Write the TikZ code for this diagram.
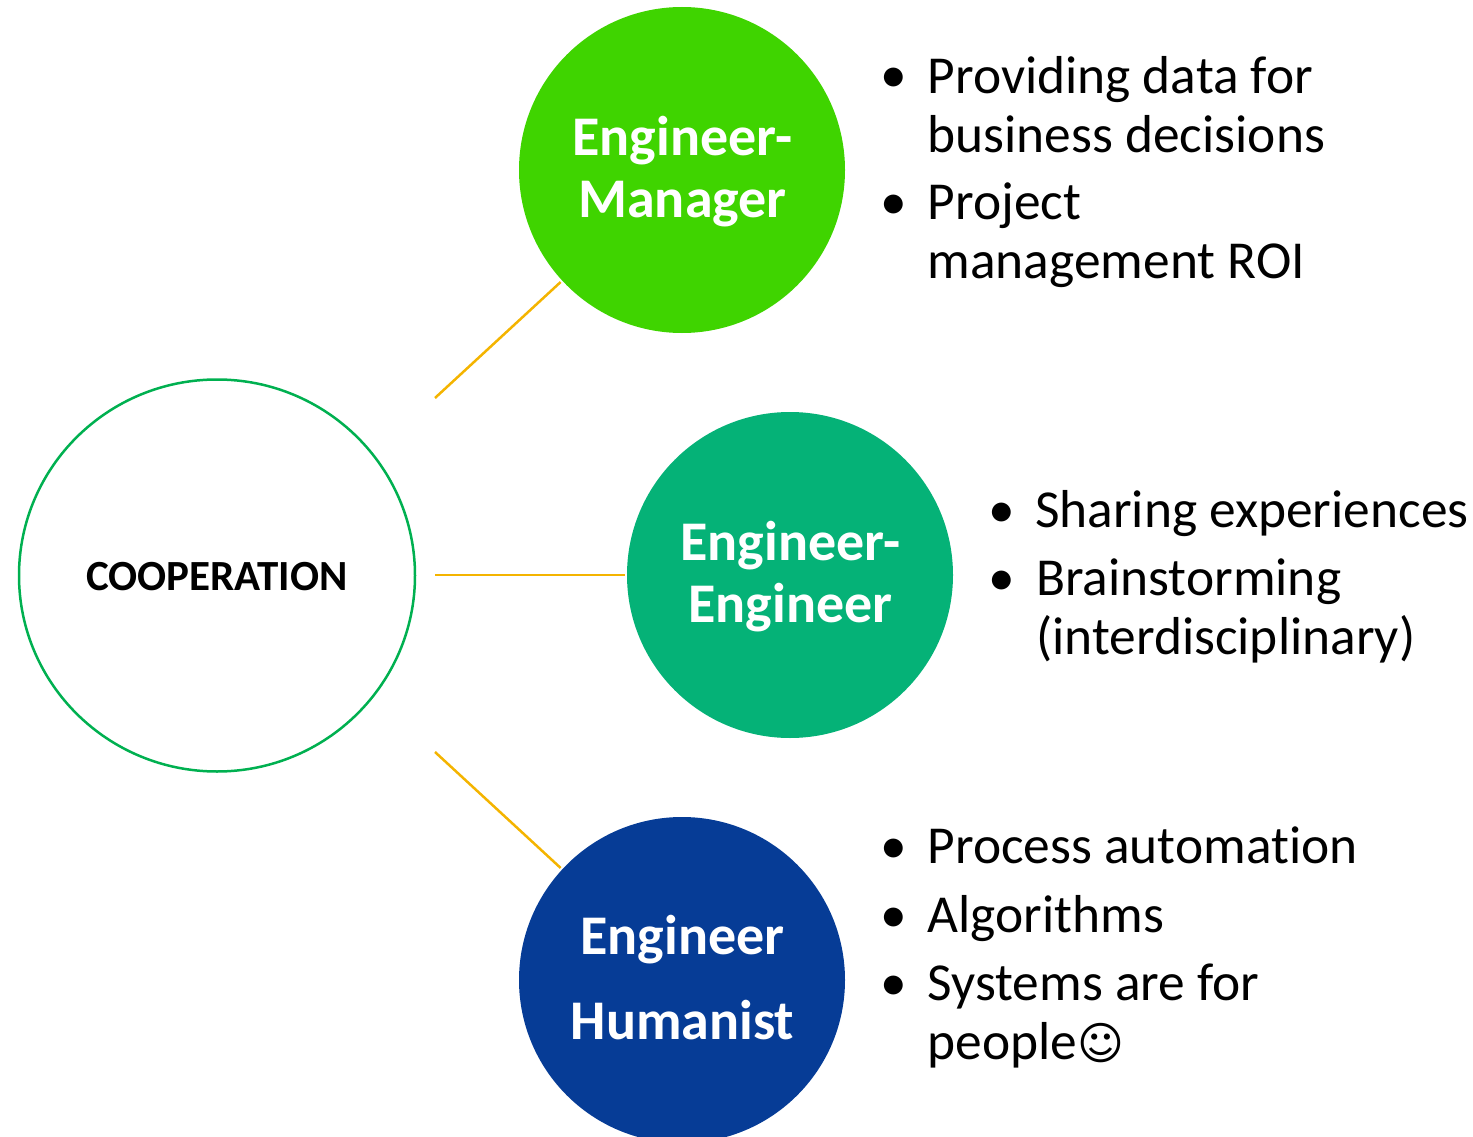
\documentclass[tikz,border=0pt]{standalone}
\usepackage{fontspec}
\usetikzlibrary{shapes.geometric}
\setmainfont{Carlito}[Ligatures=NoCommon]
\newfontfamily\symfont{DejaVu Sans}
\definecolor{mgrgreen}{HTML}{3FD400}
\definecolor{enggreen}{HTML}{05B277}
\definecolor{humblue}{HTML}{063C96}
\definecolor{ringgreen}{HTML}{00B050}
\definecolor{linkgold}{HTML}{F4B400}
\tikzset{
    topic/.style={circle, minimum size=326pt, inner sep=0pt},
    topictext/.style={inner sep=0pt, align=center, text=white, font=\fontsize{56}{62}\selectfont\bfseries},
    link/.style={linkgold, line width=2.5pt, shorten >=2pt},
    item/.style={anchor=base west, inner sep=0pt, align=left, font=\fontsize{53.4}{59}\selectfont},
    bullet/.style={anchor=base, inner sep=0pt, font=\fontsize{53.4}{59}\selectfont}
}
\begin{document}
\begin{tikzpicture}[x=1pt,y=-1pt]
    \useasboundingbox (0,0) rectangle (1473,1137);
    \node[ellipse, draw=ringgreen, line width=2.5pt, minimum width=396pt, minimum height=392pt, inner sep=0pt] (coop) at (217,575.5) {};
    \node[inner sep=0pt, font=\fontsize{43}{48}\selectfont\bfseries] (coopt) at (217,576.5) {COOPERATION};
    \node[topic, fill=mgrgreen] (mgr) at (682,170) {};
    \node[topic, fill=enggreen] (eng) at (790,575) {};
    \node[topic, fill=humblue] (hum) at (682,980) {};
    \node[topictext] (mgrt) at (682.5,172) {Engineer-\\Manager};
    \node[topictext] (engt) at (790.5,577) {Engineer-\\Engineer};
    \node[topictext, font=\fontsize{56}{85}\selectfont\bfseries] (humt) at (682.5,978) {Engineer\\Humanist};
    % connectors
    \coordinate (coopa) at (435,398);
    \coordinate (coopb) at (435,575);
    \coordinate (coopc) at (435,752);
    \draw[link] (coopa) -- (mgr);
    \draw[link] (coopb) -- (eng);
    \draw[link] (coopc) -- (hum);
    % manager list
    \node[bullet] (ba) at (893.5,92.5) {•};
    \node[item] (ia) at (927.5,152.5) {Providing data for\\business decisions};
    \node[bullet] (bb) at (893.5,219.5) {•};
    \node[item] (ib) at (927.5,278.5) {Project\\management ROI};
    % engineer list
    \node[bullet] (bc) at (1001.5,527) {•};
    \node[item] (ic) at (1035,527) {Sharing experiences};
    \node[bullet] (bd) at (1001.5,595.5) {•};
    \node[item] (id) at (1036,654.5) {Brainstorming\\(interdisciplinary)};
    % humanist list
    \node[bullet] (be) at (893.5,863.5) {•};
    \node[item] (ie) at (927.5,863.5) {Process automation};
    \node[bullet] (bf) at (893.5,932) {•};
    \node[item] (if) at (927.5,932) {Algorithms};
    \node[bullet] (bg) at (893.5,1000) {•};
    \node[item] (ig) at (927.5,1059) {Systems are for\\people{\symfont\fontsize{45}{59}\selectfont ☺}};
\end{tikzpicture}
\end{document}
